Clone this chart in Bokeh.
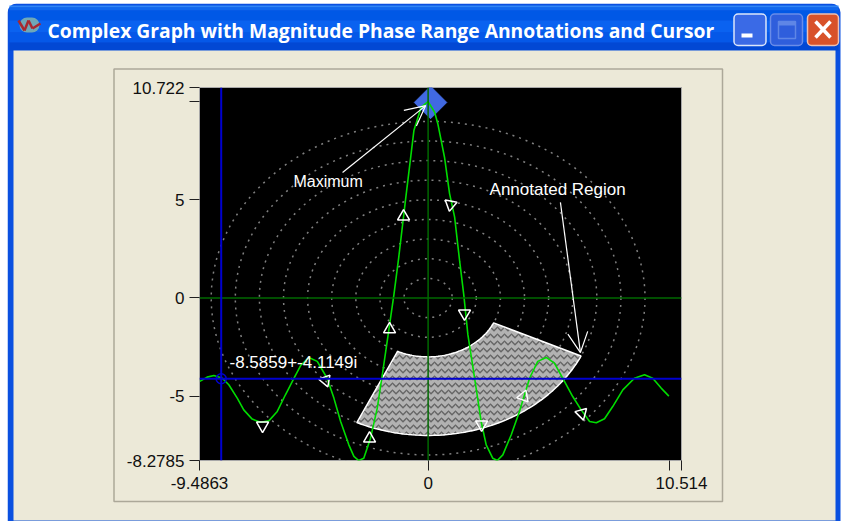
import numpy as np
from bokeh.plotting import figure
from bokeh.embed import file_html
from bokeh.resources import INLINE
from bokeh.models import (Range1d, FixedTicker, Span, Label, Arrow, OpenHead, BoxAnnotation)

title_text = "Complex Graph with Magnitude Phase Range Annotations and Cursor"
x_min, x_max = -9.4863, 10.514
y_min, y_max = -8.2785, 10.722
x_ticks = [-9.4863, 0, 10, 10.514]
y_ticks = [-8.2785, -5, 0, 5, 10, 10.722]

trace_x = [-9.47,-9.17,-8.89,-8.54,-8.27,-7.92,-7.65,-7.30,-6.95,-6.61,-6.26,-5.92,-5.57,-5.29,-4.95,-4.60,-4.19,-3.91,-3.63,-3.29,-3.08,-2.88,-2.67,-2.39,-2.11,-1.90,-1.70,-1.42,-1.22,-0.94,-0.59,-0.29,0.0,0.27,0.40,0.68,0.89,1.10,1.31,1.48,1.65,1.93,2.20,2.41,2.68,2.87,3.10,3.45,3.79,4.21,4.55,4.90,5.24,5.59,6.00,6.35,6.70,6.98,7.32,7.66,8.08,8.56,8.98,9.32,9.67,9.99]
trace_y = [-4.25,-4.03,-3.95,-4.09,-4.42,-5.10,-5.70,-6.17,-6.33,-6.26,-5.78,-4.93,-4.09,-3.44,-3.03,-3.23,-4.09,-5.10,-6.29,-7.48,-8.07,-8.28,-8.16,-7.14,-5.61,-3.91,-2.22,0.16,2.06,4.97,8.53,9.72,10.0,9.46,8.89,7.17,5.32,4.12,1.86,0.16,-1.87,-4.09,-6.29,-7.48,-8.16,-8.28,-7.99,-6.97,-5.78,-4.09,-3.23,-3.03,-3.32,-4.09,-5.02,-5.70,-6.29,-6.36,-6.15,-5.53,-4.68,-4.09,-3.91,-4.09,-4.59,-5.00]

marker_x = [-1.02,-1.60,-2.43,-4.26,-6.87,0.93,1.51,2.22,3.96,6.37]
marker_y = [4.15,-1.60,-7.16,-4.20,-6.50,4.76,-0.79,-6.44,-5.02,-5.88]
marker_angle_deg = [0,0,0,200,180,170,180,180,-20,-45]

ring_radii = [1,2,3,4,5,6,7,8,9]
region_r = [3, 7]
region_deg = [-115, -25]
cursor_x, cursor_y = -8.5859, -4.1149
cursor_text = "-8.5859+-4.1149i"
cursor_text_pos = (-8.24, -3.28)
max_x, max_y = 0.1, 9.96
ann_max_text = "Maximum"
ann_max_pos = (-5.59, 5.95)
ann_max_arrow = (-3.55, 6.39, -0.1, 9.8)
ann_reg_text = "Annotated Region"
ann_reg_pos = (2.55, 5.55)
ann_reg_arrow = (5.49, 4.87, 6.32, -2.78)

OX, OY = 7, 3
W, H = 834, 518
FACE = "#ECE9D8"
pos_style = {"position": "absolute", "left": f"{OX}px", "top": f"{OY}px"}

# ---------- window chrome: a figure whose frame fills the canvas, in page pixels
c = figure(width=W, height=H, output_backend="svg", toolbar_location=None,
           x_range=Range1d(OX, OX+W), y_range=Range1d(OY+H, OY),
           min_border=0, x_axis_location=None, y_axis_location=None,
           background_fill_color="white", border_fill_color="white", outline_line_color=None)
c.grid.visible = False
c.styles = pos_style


def box(x0, y0, x1, y1, fill=None, line=None, lw=1, radius=0):
    c.add_layout(BoxAnnotation(left=x0, right=x1, top=y0, bottom=y1,
                               fill_color=fill, fill_alpha=1 if fill else 0,
                               line_color=line, line_alpha=1 if line else 0, line_width=lw,
                               border_radius=radius, level="annotation", editable=False))


box(7, 3, 840, 522, fill="#0A50E0", radius=(9, 9, 0, 0))
for y0, y1, col in [(5, 7, "#2F86F5"), (7, 10, "#0F68EE"), (10, 20, "#0058E6"), (20, 32, "#0A62F0"), (32, 42, "#0558E8"), (42, 50, "#0248D4")]:
    box(9, y0, 838, y1, fill=col)
box(13, 50, 835, 520, fill=FACE)
box(113.5, 68.5, 722, 501, line="#ACA899", lw=1.5)
box(19, 17, 39, 32, fill="#6FA8B8", radius=8)
box(733.5, 13.5, 765.5, 45, fill="#3A6AE6", line="#DCE6FA", lw=1.5, radius=4)
box(770, 13.5, 802, 45, fill="#2F5EDC", line="#6A8CE8", lw=1.5, radius=4)
box(807, 13.5, 838, 45, fill="#D8522A", line="#F0C0B0", lw=1.5, radius=4)
box(741, 33, 752, 37, fill="white")
box(778, 21, 795, 38, line="#5F86E6", lw=1.5)
box(778, 21, 795, 25, fill="#5F86E6")
c.add_layout(Arrow(end=None, x_start=815, y_start=21, x_end=830, y_end=37, line_color="white", line_width=3.5, level="overlay"))
c.add_layout(Arrow(end=None, x_start=830, y_start=21, x_end=815, y_end=37, line_color="white", line_width=3.5, level="overlay"))
for a, b, d, e in [(18, 20, 24, 30), (24, 30, 28, 20), (28, 20, 32, 28), (32, 28, 40, 23)]:
    c.add_layout(Arrow(end=None, x_start=a, y_start=b, x_end=d, y_end=e, line_color="#A82830", line_width=2.5, level="overlay"))
c.add_layout(Label(x=47, y=30, text=title_text, text_color="white", text_font="Open Sans", text_font_style="bold",
                   text_font_size="19.3px", text_baseline="middle", level="overlay"))

# ---------- the chart, on top, with a transparent surround
p = figure(width=W, height=H, output_backend="svg", toolbar_location=None,
           x_range=Range1d(x_min, x_max), y_range=Range1d(y_min, y_max),
           min_border_left=199-OX, min_border_right=OX+W-681,
           min_border_top=87-OY, min_border_bottom=OY+H-460,
           background_fill_color="black", border_fill_alpha=0,
           outline_line_color="#a8a8a8", outline_line_width=1)
p.styles = pos_style
p.grid.visible = False

for ax, ticks in ((p.xaxis[0], x_ticks), (p.yaxis[0], y_ticks)):
    ax.ticker = FixedTicker(ticks=ticks)
    ax.major_tick_in = 0
    ax.major_tick_out = 10
    ax.minor_tick_line_color = None
    ax.axis_line_color = None
    ax.major_tick_line_color = "#202020"
    ax.major_label_text_font = "Liberation Sans"
    ax.major_label_text_font_size = "17px"
    ax.major_label_text_color = "#101010"
p.yaxis[0].major_label_standoff = 5
p.xaxis[0].major_label_standoff = 6
p.yaxis[0].major_label_overrides = {10: "", 10.722: "10.722", -8.2785: "-8.2785", 5: "5", 0: "0", -5: "-5"}
p.xaxis[0].major_label_overrides = {10: "", 10.514: "10.514", -9.4863: "-9.4863", 0: "0"}

for r in ring_radii:
    p.ellipse(x=0, y=0, width=2*r, height=2*r, fill_alpha=0, line_color="#808080",
              line_dash="2 5", line_width=1.5)

th = np.radians(np.linspace(region_deg[0], region_deg[1], 61))
rx = np.concatenate([region_r[0]*np.cos(th), region_r[1]*np.cos(th[::-1])])
ry = np.concatenate([region_r[0]*np.sin(th), region_r[1]*np.sin(th[::-1])])
p.patch(rx, ry, fill_color="#B2B2B2", line_color="white", line_width=1.5,
        hatch_pattern="horizontal_wave", hatch_color="#666666", hatch_scale=7, hatch_weight=1.5)

p.add_layout(Span(location=0, dimension="width", line_color="#006800", line_width=1.5))
p.add_layout(Span(location=0, dimension="height", line_color="#006800", line_width=1.5))

p.scatter([max_x], [max_y], marker="square", size=23, angle=np.pi/4, fill_color="#4169E1", line_color="#4169E1")
p.line(trace_x, trace_y, line_color="#00DC00", line_width=1.6)
p.scatter(marker_x, marker_y, marker="triangle", size=12, fill_alpha=0, line_color="white", line_width=1.5,
          angle=np.radians(marker_angle_deg))

p.add_layout(Span(location=cursor_x, dimension="height", line_color="#0000D0", line_width=2))
p.add_layout(Span(location=cursor_y, dimension="width", line_color="#0000D0", line_width=2))
p.scatter([cursor_x], [cursor_y], marker="circle", size=10, fill_alpha=0, line_color="#0000D0", line_width=1.5)

for txt, pos, size in ((ann_max_text, ann_max_pos, "16px"), (ann_reg_text, ann_reg_pos, "17px"), (cursor_text, cursor_text_pos, "17px")):
    p.add_layout(Label(x=pos[0], y=pos[1], text=txt, text_color="white", text_font="Liberation Sans",
                       text_font_size=size, text_baseline="alphabetic"))
for a in (ann_max_arrow, ann_reg_arrow):
    p.add_layout(Arrow(end=OpenHead(size=20, line_color="white", line_width=1.2),
                       x_start=a[0], y_start=a[1], x_end=a[2], y_end=a[3],
                       line_color="white", line_width=1.2))

open("out.html", "w").write(file_html([c, p], INLINE))
